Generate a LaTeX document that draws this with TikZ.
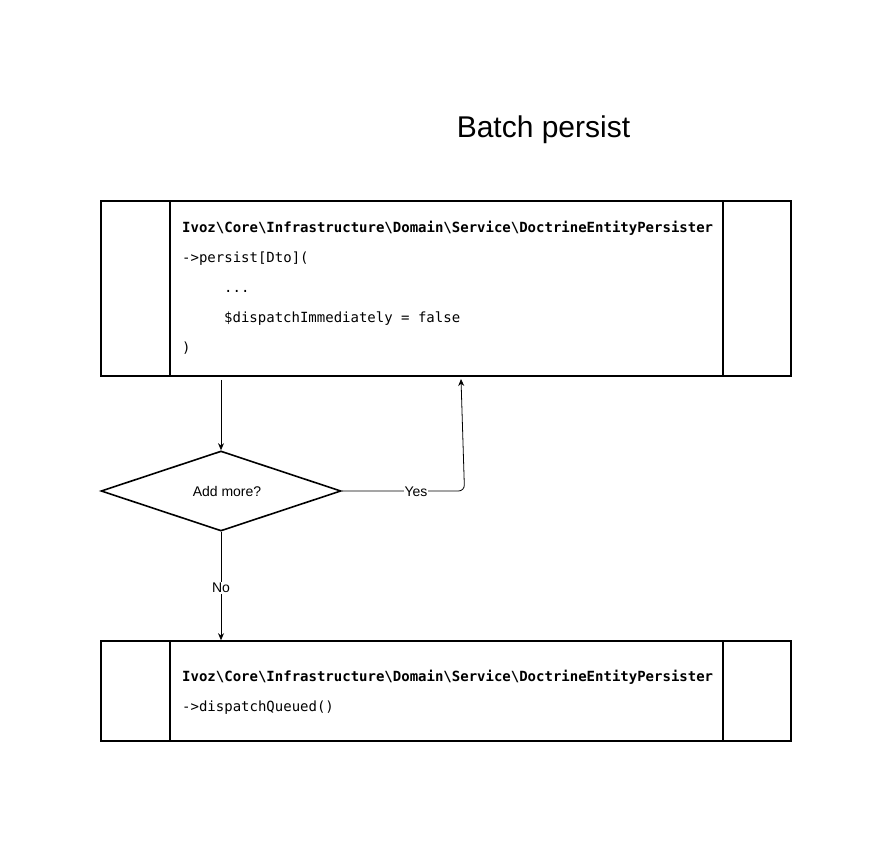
\documentclass[tikz,border=0pt]{standalone}
\usepackage{fontspec}
\setmainfont{Liberation Sans}
\newfontfamily\codefont{DejaVu Sans Mono}
\usetikzlibrary{shapes.geometric,arrows.meta}
\begin{document}
\begin{tikzpicture}[x=1pt,y=-1pt,
  procbox/.style={draw,line width=1.6pt,rectangle,minimum width=690pt,inner sep=0pt},
  codetext/.style={font=\codefont\fontsize{14}{30}\selectfont,align=left,anchor=west,inner sep=0pt},
  decision/.style={draw,line width=1.6pt,diamond,minimum width=240pt,minimum height=80pt,inner sep=0pt,aspect=3,font=\fontsize{14}{16}\selectfont},
  conn/.style={line width=0.8pt,-{Stealth[length=7pt,width=6pt]}},
  lbl/.style={fill=white,inner sep=1pt,font=\fontsize{14}{16}\selectfont}]
\useasboundingbox (0,0) rectangle (892,842);
\node[font=\fontsize{30}{34}\selectfont] (title) at (543.5,129.5) {Batch persist};
% box 1
\node[procbox,minimum height=175pt] (p1) at (446,288.5) {};
\draw[line width=1.6pt] ([xshift=69.5pt]p1.north west) -- ([xshift=69.5pt]p1.south west);
\draw[line width=1.6pt] ([xshift=-69pt]p1.north east) -- ([xshift=-69pt]p1.south east);
\node[codetext] (t1) at (182,288) {\textbf{Ivoz\textbackslash Core\textbackslash Infrastructure\textbackslash Domain\textbackslash Service\textbackslash DoctrineEntityPersister}\\
->persist[Dto](\\
\hspace*{42pt}...\\
\hspace*{42pt}\$dispatchImmediately = false\\
)};
% decision
\node[decision] (d) at (221,491) {\hspace*{12pt}Add more?};
% box 2
\node[procbox,minimum height=100pt] (p2) at (446,691) {};
\draw[line width=1.6pt] ([xshift=69.5pt]p2.north west) -- ([xshift=69.5pt]p2.south west);
\draw[line width=1.6pt] ([xshift=-69pt]p2.north east) -- ([xshift=-69pt]p2.south east);
\node[codetext] (t2) at (182,692) {\textbf{Ivoz\textbackslash Core\textbackslash Infrastructure\textbackslash Domain\textbackslash Service\textbackslash DoctrineEntityPersister}\\
->dispatchQueued()};
% connectors
\coordinate (c1) at (221,380);
\coordinate (c2) at (461,379);
\coordinate (c3) at (464.5,491);
\draw[conn] (c1) -- (d.north);
\draw[conn,rounded corners=6pt] (d.east) -- (c3) -- (c2);
\node[lbl] (yes) at (416,492) {Yes};
\draw[conn] (d.south) -- (p2.north -| d.south);
\node[lbl] (no) at (221,588) {No};
\end{tikzpicture}
\end{document}
